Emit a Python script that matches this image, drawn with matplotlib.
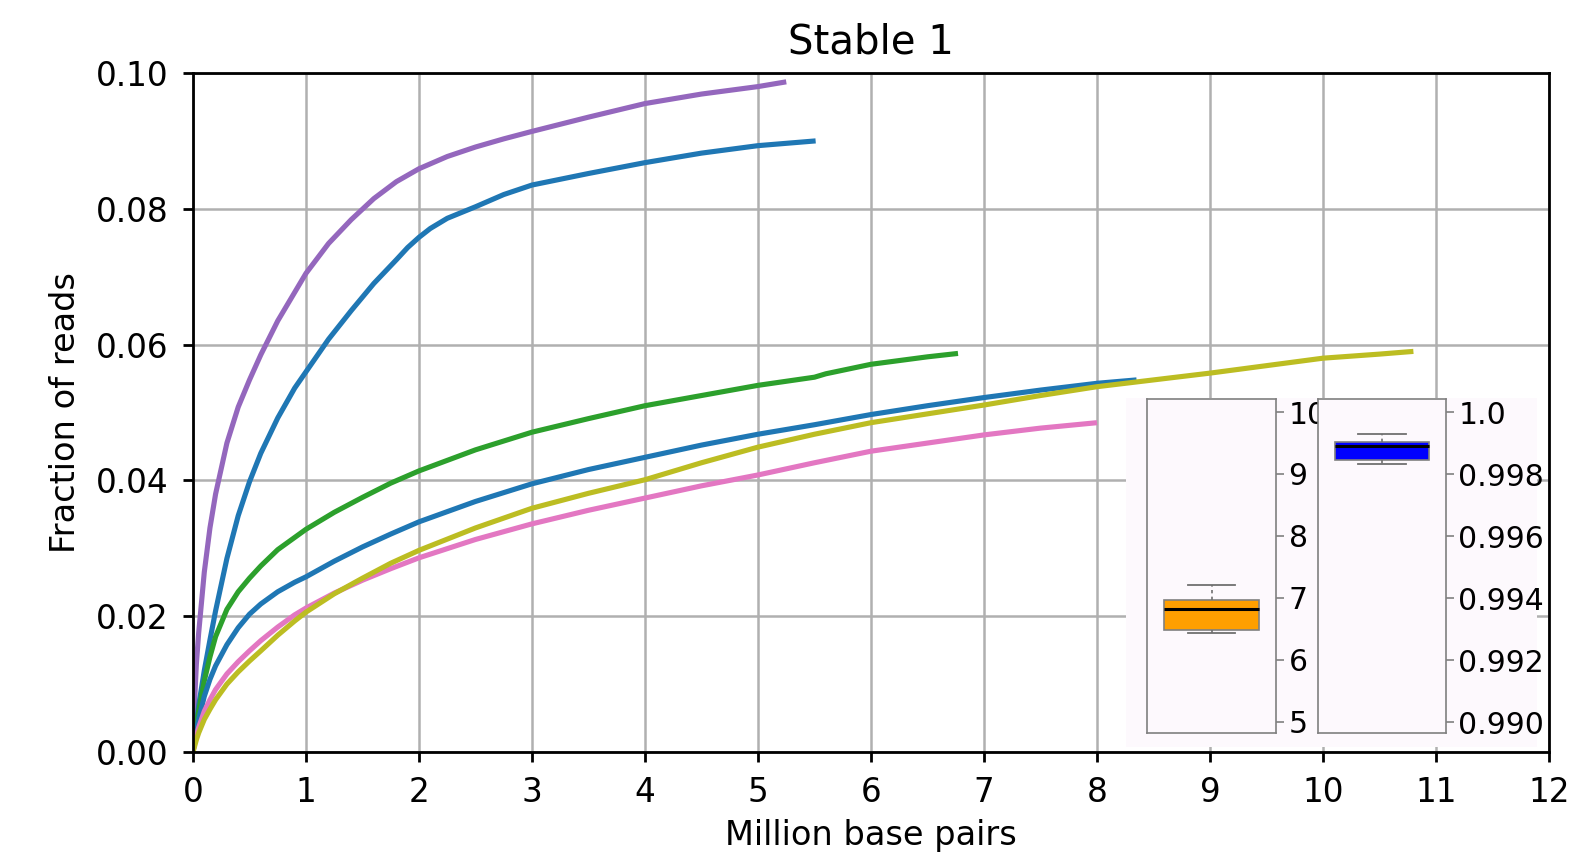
import matplotlib
matplotlib.use("Agg")
import matplotlib.pyplot as plt

W, H = 1571, 863

# ---- data ----
purple_x = [0, 0.01, 0.03, 0.05, 0.1, 0.15, 0.2, 0.3, 0.4, 0.5, 0.6, 0.75, 0.9, 1.0, 1.2, 1.4, 1.6, 1.8, 2.0, 2.25, 2.5, 2.75, 3.0, 3.5, 4.0, 4.5, 5.0, 5.25]
purple_y = [0, 0.006, 0.013, 0.0175, 0.0265, 0.033, 0.038, 0.0455, 0.0508, 0.0548, 0.0585, 0.0635, 0.0677, 0.0705, 0.0749, 0.0784, 0.0815, 0.0840, 0.0859, 0.0877, 0.0891, 0.0903, 0.0914, 0.0935, 0.0955, 0.0969, 0.0980, 0.0987]

blue1_x = [0, 0.01, 0.03, 0.05, 0.1, 0.15, 0.2, 0.3, 0.4, 0.5, 0.6, 0.75, 0.9, 1.0, 1.2, 1.4, 1.6, 1.8, 1.9, 2.0, 2.1, 2.25, 2.5, 2.75, 3.0, 3.5, 4.0, 4.5, 5.0, 5.51]
blue1_y = [0, 0.0015, 0.0042, 0.0068, 0.0120, 0.0165, 0.0208, 0.0285, 0.0348, 0.0398, 0.0440, 0.0492, 0.0536, 0.0560, 0.0608, 0.0650, 0.0690, 0.0725, 0.0743, 0.0758, 0.0771, 0.0786, 0.0803, 0.0821, 0.0835, 0.0852, 0.0868, 0.0882, 0.0893, 0.0900]

green_x = [0, 0.01, 0.03, 0.05, 0.1, 0.15, 0.2, 0.3, 0.4, 0.5, 0.6, 0.75, 0.9, 1.0, 1.25, 1.5, 1.75, 2.0, 2.5, 3.0, 3.5, 4.0, 4.5, 5.0, 5.5, 5.6, 6.0, 6.5, 6.77]
green_y = [0, 0.0014, 0.0040, 0.0060, 0.0105, 0.0140, 0.0170, 0.0210, 0.0236, 0.0256, 0.0274, 0.0298, 0.0316, 0.0328, 0.0353, 0.0375, 0.0396, 0.0414, 0.0445, 0.0471, 0.0491, 0.0510, 0.0525, 0.0540, 0.0552, 0.0557, 0.0571, 0.0582, 0.0587]

blue2_x = [0, 0.01, 0.03, 0.05, 0.1, 0.15, 0.2, 0.3, 0.4, 0.5, 0.6, 0.75, 0.9, 1.0, 1.25, 1.5, 1.75, 2.0, 2.5, 3.0, 3.5, 4.0, 4.5, 5.0, 5.5, 6.0, 6.5, 7.0, 7.5, 8.0, 8.35]
blue2_y = [0, 0.0012, 0.0032, 0.0048, 0.0082, 0.0107, 0.0127, 0.0158, 0.0183, 0.0203, 0.0218, 0.0236, 0.0250, 0.0258, 0.0281, 0.0302, 0.0321, 0.0339, 0.0369, 0.0395, 0.0416, 0.0434, 0.0452, 0.0468, 0.0482, 0.0497, 0.0510, 0.0522, 0.0533, 0.0543, 0.0548]

pink_x = [0, 0.01, 0.03, 0.05, 0.1, 0.15, 0.2, 0.3, 0.4, 0.5, 0.6, 0.75, 0.9, 1.0, 1.25, 1.5, 1.75, 2.0, 2.5, 3.0, 3.5, 4.0, 4.5, 5.0, 5.5, 6.0, 6.5, 7.0, 7.5, 8.0]
pink_y = [0, 0.0009, 0.0024, 0.0036, 0.0060, 0.0077, 0.0092, 0.0115, 0.0133, 0.0149, 0.0164, 0.0184, 0.0202, 0.0212, 0.0234, 0.0253, 0.0270, 0.0286, 0.0313, 0.0336, 0.0356, 0.0374, 0.0392, 0.0408, 0.0426, 0.0443, 0.0455, 0.0467, 0.0477, 0.0485]

olive_x = [0, 0.01, 0.03, 0.05, 0.1, 0.15, 0.2, 0.3, 0.4, 0.5, 0.6, 0.75, 0.9, 1.0, 1.25, 1.5, 1.75, 2.0, 2.5, 3.0, 3.5, 4.0, 4.5, 5.0, 5.5, 6.0, 6.5, 7.0, 7.5, 8.0, 8.5, 9.0, 9.5, 10.0, 10.5, 10.8]
olive_y = [0, 0.0006, 0.0018, 0.0028, 0.0048, 0.0063, 0.0077, 0.0100, 0.0118, 0.0134, 0.0149, 0.0172, 0.0193, 0.0206, 0.0233, 0.0256, 0.0278, 0.0297, 0.0330, 0.0359, 0.0381, 0.0401, 0.0426, 0.0449, 0.0468, 0.0485, 0.0498, 0.0511, 0.0525, 0.0538, 0.0548, 0.0558, 0.0569, 0.0580, 0.0586, 0.0590]

series = [
    (purple_x, purple_y, "#9467bd"),
    (blue1_x, blue1_y, "#1f77b4"),
    (green_x, green_y, "#2ca02c"),
    (blue2_x, blue2_y, "#1f77b4"),
    (pink_x, pink_y, "#e377c2"),
    (olive_x, olive_y, "#bcbd22"),
]

# inset box statistics
box1_stats = dict(whislo=6.44, q1=6.48, med=6.82, q3=6.97, whishi=7.21)
box2_stats = dict(whislo=0.99832, q1=0.99845, med=0.99890, q3=0.99903, whishi=0.99929)
box1_ticks = [5, 6, 7, 8, 9, 10]
box1_labels = ["5", "6", "7", "8", "9", "10"]
box2_ticks = [0.990, 0.992, 0.994, 0.996, 0.998, 1.0]
box2_labels = ["0.990", "0.992", "0.994", "0.996", "0.998", "1.0"]

x_ticks = list(range(0, 13))
y_ticks = [0.00, 0.02, 0.04, 0.06, 0.08, 0.10]
y_labels = ["0.00", "0.02", "0.04", "0.06", "0.08", "0.10"]

# ---- figure ----
fig = plt.figure(figsize=(W / 100, H / 100), dpi=100)

def fa(x0, y0, x1, y1):
    return [x0 / W, 1 - y1 / H, (x1 - x0) / W, (y1 - y0) / H]

ax = fig.add_axes(fa(193, 73, 1549, 752))
for xs, ys, c in series:
    ax.plot(xs, ys, color=c, lw=3.7, solid_capstyle="butt", solid_joinstyle="round")
ax.set_xlim(0, 12)
ax.set_ylim(0, 0.10)
ax.set_xticks(x_ticks)
ax.set_xticklabels([str(t) for t in x_ticks])
ax.set_yticks(y_ticks)
ax.set_yticklabels(y_labels)
ax.grid(True, color="#b0b0b0", lw=1.8)
ax.set_axisbelow(True)
for s in ax.spines.values():
    s.set_linewidth(2.0)
ax.tick_params(labelsize=23.5, length=7.5, width=2, pad=10)
ax.set_title("Stable 1", fontsize=29, pad=14)
ax.set_xlabel("Million base pairs", fontsize=24.2, labelpad=7)
ax.set_ylabel("Fraction of reads", fontsize=24.2, labelpad=10)

# inset background
bg = fig.add_axes(fa(1126, 398, 1537, 747))
bg.set_facecolor("#fdf9fd")
bg.set_xticks([])
bg.set_yticks([])
for s in bg.spines.values():
    s.set_visible(False)

def inset(rect, stats, color, ylim, ticks, labels):
    a = fig.add_axes(rect)
    a.set_facecolor("#fdf9fd")
    st = dict(stats)
    st["fliers"] = []
    a.bxp([st], positions=[1], widths=0.74, capwidths=[0.37], patch_artist=True,
          showfliers=False,
          boxprops=dict(facecolor=color, edgecolor="#808080", lw=1.2),
          medianprops=dict(color="black", lw=2.2),
          whiskerprops=dict(color="#707070", lw=1.2, ls=(0, (2, 2))),
          capprops=dict(color="#707070", lw=1.3))
    a.set_xlim(0.5, 1.5)
    a.set_ylim(*ylim)
    a.set_xticks([])
    a.set_yticks(ticks)
    a.set_yticklabels(labels)
    a.yaxis.tick_right()
    a.tick_params(axis="y", labelsize=21.5, length=6, width=1.2, color="#808080", pad=3)
    for s in a.spines.values():
        s.set_color("#808080")
        s.set_linewidth(1.2)
    return a

inset(fa(1147, 399, 1276, 733), box1_stats, "#ff9f00", (4.82, 10.21), box1_ticks, box1_labels)
inset(fa(1318, 399, 1446, 733), box2_stats, "#0000ff", (0.98965, 1.00042), box2_ticks, box2_labels)

fig.savefig("out.png", dpi=100)
